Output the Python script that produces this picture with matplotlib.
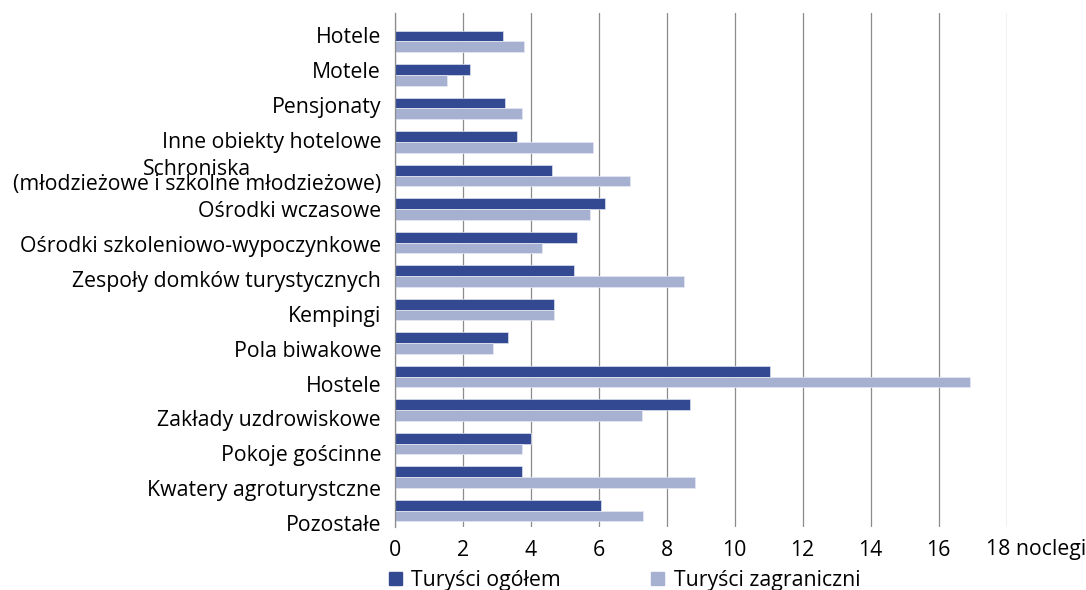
import numpy as np
import matplotlib.pyplot as plt
import matplotlib.transforms as mtransforms
from matplotlib.patches import Patch

categories = [
    "Hotele",
    "Motele",
    "Pensjonaty",
    "Inne obiekty hotelowe",
    "Schroniska\n(młodzieżowe i szkolne młodzieżowe)",
    "Ośrodki wczasowe",
    "Ośrodki szkoleniowo-wypoczynkowe",
    "Zespoły domków turystycznych",
    "Kempingi",
    "Pola biwakowe",
    "Hostele",
    "Zakłady uzdrowiskowe",
    "Pokoje gościnne",
    "Kwatery agroturystczne",
    "Pozostałe",
]
turysci_ogolem = [3.17, 2.20, 3.25, 3.58, 4.61, 6.19, 5.36, 5.27, 4.67,
                  3.34, 11.03, 8.69, 4.01, 3.73, 6.05]
turysci_zagraniczni = [3.79, 1.54, 3.73, 5.84, 6.92, 5.74, 4.33, 8.51, 4.67,
                       2.88, 16.93, 7.28, 3.73, 8.83, 7.31]
xticks = [0, 2, 4, 6, 8, 10, 12, 14, 16, 18]
xunit = "noclegi"

c_dark = "#334A92"
c_light = "#A6B0D0"
grid_c = "#8C8C8C"

plt.rcParams['font.family'] = ['Open Sans', 'DejaVu Sans']
fs = 15.3

fig = plt.figure(figsize=(10.86, 5.9), dpi=100)
ax = fig.add_axes([395 / 1086, 1 - 527 / 590, (1006.5 - 395) / 1086, (527 - 13) / 590])

y = np.arange(len(categories))
h = 0.32
ax.barh(y - h / 2, turysci_ogolem, height=h, color=c_dark, edgecolor="#DDE2F0", linewidth=0.5)
ax.barh(y + h / 2, turysci_zagraniczni, height=h, color=c_light, edgecolor="#E6E9F3", linewidth=0.5)

ax.set_xlim(0, 18)
ax.set_ylim(14.49, -0.85)

ax.set_xticks(xticks)
ax.set_xticklabels([str(t) for t in xticks[:-1]] + [f"{xticks[-1]} {xunit}"], fontsize=fs)
ax.xaxis.grid(True, color=grid_c, linewidth=0.9)
ax.set_axisbelow(True)
ax.tick_params(axis='x', length=0, pad=9)
lab18 = ax.get_xticklabels()[-1]
lab18.set_horizontalalignment('left')
lab18.set_transform(lab18.get_transform() + mtransforms.ScaledTranslation(-0.20, 0, fig.dpi_scale_trans))

yt = np.arange(len(categories)) * 1.04 - 0.19
yt[4] += 0.1  # two-line label sits a bit lower
ax.set_yticks(yt)
ax.set_yticklabels(categories, fontsize=fs, linespacing=0.62, multialignment='center')
ax.tick_params(axis='y', length=0, pad=10)

for s in ["top", "right", "bottom"]:
    ax.spines[s].set_visible(False)
ax.spines["left"].set_color(grid_c)
ax.spines["left"].set_linewidth(0.9)

handles = [Patch(color=c_dark, label="Turyści ogółem"),
           Patch(color=c_light, label="Turyści zagraniczni")]
fig.legend(handles=handles, loc="upper left", bbox_to_anchor=(389 / 1086, 1 - 570 / 590),
           ncol=2, frameon=False, fontsize=fs, handlelength=0.6, handleheight=0.6,
           handletextpad=0.45, columnspacing=4.25, borderaxespad=0, borderpad=0)

fig.savefig("out.png", dpi=100)
